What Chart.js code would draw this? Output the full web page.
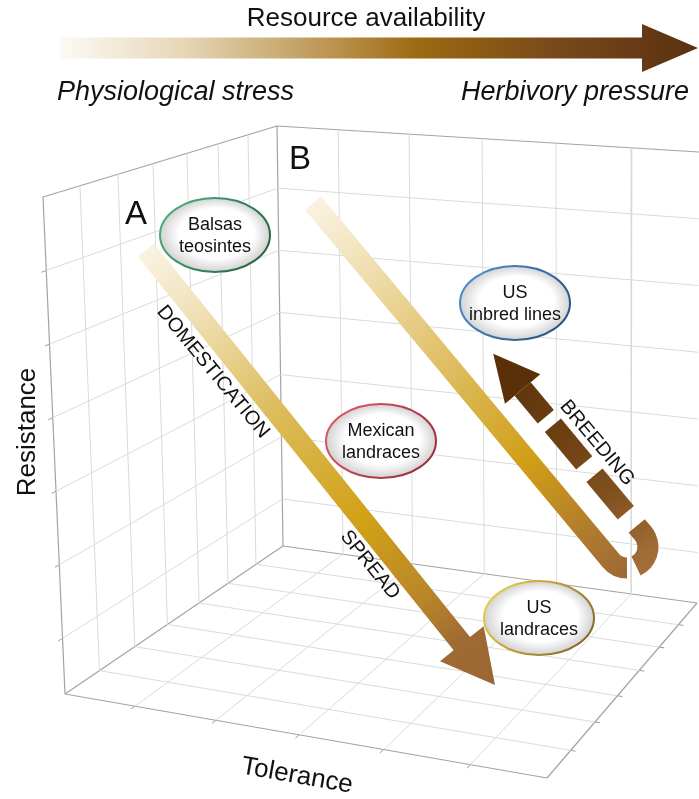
<!DOCTYPE html>
<html>
<head>
<meta charset="utf-8">
<script src="https://cdn.jsdelivr.net/npm/chart.js@4.4.1/dist/chart.umd.min.js"></script>
<style>
  html, body { margin: 0; padding: 0; background: #fff; }
  canvas { display: block; }
</style>
</head>
<body>
<canvas id="myChart" width="699" height="799"></canvas>
<script>
// value space of the chart = pixel space of the figure
const W = 699, H = 799;

// corners of the three box planes [x, y]
const leftWall = { tl: [43, 197], tr: [277, 126], bl: [65, 694], br: [283, 546] };
const backWall = { tl: [277, 126], tr: [699, 152], bl: [283, 546], br: [697, 603] };
const floorPlane = { tl: [283, 546], tr: [697, 603], bl: [65, 694], br: [547, 778] };

// grid ticks, as fractions of each edge
const resistanceTicks = [0.148, 0.296, 0.444, 0.592, 0.74, 0.888]; // from the top
const depthTicks = [0.158, 0.32, 0.47, 0.615, 0.748, 0.876]; // left wall, from the front
const toleranceTicks = [0.145, 0.313, 0.486, 0.661, 0.841]; // back wall / floor

// groups (ellipses)
const groupLabels = [['Balsas', 'teosintes'], ['US', 'inbred lines'], ['Mexican', 'landraces'], ['US', 'landraces']];
const groupX = [215, 515, 381, 539];
const groupY = [235, 303, 441, 618];
const ringLight = ['#55b585', '#4f95d2', '#e55d66', '#f3dc4a'];
const ringDark = ['#1c5a38', '#1f4b78', '#8e2a36', '#7a5a22'];

// arrows
const domesticationArrow = [[146, 250], [495, 685]]; // start, tip
const breedingStart = [313, 203];
const breedingTurn = [627, 547]; // centre of the U turn
const breedingTip = [494, 353];

// panel letters and captions
const panelLetters = ['A', 'B'];
const panelX = [136, 300];
const panelY = [215, 160];
const arrowWords = ['DOMESTICATION', 'SPREAD', 'BREEDING'];
const arrowWordX = [213, 370, 597];
const arrowWordY = [372, 565, 443];
const arrowWordAngle = [50.5, 51, 50];

const FONT = '"Liberation Sans", Arial, sans-serif';

// bilinear point on a plane
function onPlane(p, u, v) {
  const top = [p.tl[0] + (p.tr[0] - p.tl[0]) * u, p.tl[1] + (p.tr[1] - p.tl[1]) * u];
  const bot = [p.bl[0] + (p.br[0] - p.bl[0]) * u, p.bl[1] + (p.br[1] - p.bl[1]) * u];
  return [top[0] + (bot[0] - top[0]) * v, top[1] + (bot[1] - top[1]) * v];
}

const datasets = [];
function addLine(a, b, color, width) {
  datasets.push({
    data: [{ x: a[0], y: a[1] }, { x: b[0], y: b[1] }],
    showLine: true,
    borderColor: color,
    borderWidth: width,
    pointRadius: 0,
    fill: false,
  });
}
function addTick(inner, outer) {
  const dx = outer[0] - inner[0], dy = outer[1] - inner[1];
  const l = Math.hypot(dx, dy);
  addLine(outer, [outer[0] + dx / l * 5, outer[1] + dy / l * 5], '#9a9a9a', 1);
}

const GRID = '#dadada';
// left wall
depthTicks.forEach(u => addLine(onPlane(leftWall, u, 0), onPlane(leftWall, u, 1), GRID, 1));
resistanceTicks.forEach(v => addLine(onPlane(leftWall, 0, v), onPlane(leftWall, 1, v), GRID, 1));
// back wall
toleranceTicks.forEach(u => addLine(onPlane(backWall, u, 0), onPlane(backWall, u, 1), GRID, 1));
resistanceTicks.forEach(v => addLine(onPlane(backWall, 0, v), onPlane(backWall, 1, v), GRID, 1));
// floor
toleranceTicks.forEach(u => addLine(onPlane(floorPlane, u, 0), onPlane(floorPlane, u, 1), GRID, 1));
depthTicks.forEach(f => addLine(onPlane(floorPlane, 0, 1 - f), onPlane(floorPlane, 1, 1 - f), GRID, 1));

// box edges
const EDGE = '#a3a3a3';
[
  [leftWall.tl, leftWall.tr], [leftWall.tl, leftWall.bl], [leftWall.tr, leftWall.br],
  [leftWall.bl, leftWall.br], [backWall.tl, backWall.tr], [backWall.bl, backWall.br],
  [floorPlane.bl, floorPlane.br], [floorPlane.br, floorPlane.tr],
].forEach(e => addLine(e[0], e[1], EDGE, 1.2));

// small ticks
resistanceTicks.forEach(v => addTick(onPlane(leftWall, 1, v), onPlane(leftWall, 0, v)));
toleranceTicks.forEach(u => addTick(onPlane(floorPlane, u, 0), onPlane(floorPlane, u, 1)));
depthTicks.forEach(f => addTick(onPlane(floorPlane, 0, 1 - f), onPlane(floorPlane, 1, 1 - f)));

function gradientAlong(ctx, a, b, stops) {
  const g = ctx.createLinearGradient(a[0], a[1], b[0], b[1]);
  stops.forEach(s => g.addColorStop(s[0], s[1]));
  return g;
}

function straightArrow(ctx, a, b, width, headLen, headHalf, fill) {
  const dx = b[0] - a[0], dy = b[1] - a[1], len = Math.hypot(dx, dy);
  const ux = dx / len, uy = dy / len, nx = -uy, ny = ux;
  const bx = b[0] - ux * headLen, by = b[1] - uy * headLen;
  const w = width / 2;
  ctx.fillStyle = fill;
  ctx.beginPath();
  ctx.moveTo(a[0] + nx * w, a[1] + ny * w);
  ctx.lineTo(bx + nx * w, by + ny * w);
  ctx.lineTo(bx + nx * headHalf, by + ny * headHalf);
  ctx.lineTo(b[0], b[1]);
  ctx.lineTo(bx - nx * headHalf, by - ny * headHalf);
  ctx.lineTo(bx - nx * w, by - ny * w);
  ctx.lineTo(a[0] - nx * w, a[1] - ny * w);
  ctx.closePath();
  ctx.fill();
}

function text(ctx, str, x, y, size, opts) {
  const o = opts || {};
  ctx.save();
  ctx.translate(x, y);
  if (o.angle) ctx.rotate(o.angle * Math.PI / 180);
  ctx.font = (o.italic ? 'italic ' : '') + size + 'px ' + FONT;
  ctx.fillStyle = '#111';
  ctx.textAlign = o.align || 'center';
  ctx.textBaseline = o.baseline || 'middle';
  ctx.fillText(str, 0, 0);
  ctx.restore();
}

const figurePlugin = {
  id: 'figure',
  afterDatasetsDraw(chart) {
    const ctx = chart.ctx;
    const sx = chart.scales.x, sy = chart.scales.y;
    const P = p => [sx.getPixelForValue(p[0]), sy.getPixelForValue(p[1])];

    // resource availability arrow
    const ra = P([60, 48]), rb = P([698, 48]);
    straightArrow(ctx, ra, rb, 21, 56, 24, gradientAlong(ctx, ra, rb, [
      [0, '#fcfaf5'], [0.2, '#e6d5b4'], [0.45, '#b68d45'], [0.56, '#9c6a12'], [0.8, '#74461a'], [1, '#5a3110'],
    ]));
    text(ctx, 'Resource availability', 366, 19, 26);
    text(ctx, 'Physiological stress', 57, 92, 27, { italic: true, align: 'left' });
    text(ctx, 'Herbivory pressure', 689, 92, 27, { italic: true, align: 'right' });

    // axis titles
    text(ctx, 'Resistance', 28, 432, 26, { angle: -90 });
    text(ctx, 'Tolerance', 297, 776, 26, { angle: 10 });

    // A: domestication / spread
    const da = P(domesticationArrow[0]), db = P(domesticationArrow[1]);
    straightArrow(ctx, da, db, 21, 53, 28, gradientAlong(ctx, da, db, [
      [0, '#faf3e2'], [0.12, '#f2e4bf'], [0.37, '#dcbc5c'], [0.62, '#d1a116'], [0.8, '#b8862a'], [0.9, '#9f6a33'], [1, '#9a6633'],
    ]));

    // B: breeding U turn
    const S = P(breedingStart), C = P(breedingTurn), T = P(breedingTip);
    const r = 21;
    const D = Math.hypot(C[0] - S[0], C[1] - S[1]);
    const ang = Math.atan2(C[1] - S[1], C[0] - S[0]) + Math.asin(r / D);
    const ux = Math.cos(ang), uy = Math.sin(ang);
    const nx = uy, ny = -ux;
    const P1 = [C[0] - r * nx, C[1] - r * ny];
    const P2 = [C[0] + r * nx, C[1] + r * ny];
    const a1 = Math.atan2(-ny, -nx), a2 = Math.atan2(ny, nx);
    const back = (P2[0] - T[0]) * ux + (P2[1] - T[1]) * uy;
    const tip = [P2[0] - ux * back, P2[1] - uy * back];
    const headLen = 46, headHalf = 23;
    const base = [tip[0] + ux * headLen, tip[1] + uy * headLen];

    ctx.save();
    ctx.lineWidth = 21;
    ctx.lineCap = 'butt';
    ctx.strokeStyle = gradientAlong(ctx, S, [C[0], C[1] + r], [
      [0, '#faf3e2'], [0.15, '#f1e2b8'], [0.5, '#dbb650'], [0.7, '#d09e16'], [0.88, '#b27d2b'], [1, '#9e6a36'],
    ]);
    ctx.beginPath();
    ctx.moveTo(S[0], S[1]);
    ctx.lineTo(P1[0], P1[1]);
    ctx.arc(C[0], C[1], r, a1, Math.PI / 2, true);
    ctx.stroke();

    const dashGrad = gradientAlong(ctx, [C[0] + ux * r, C[1] + uy * r], tip, [
      [0, '#a26d38'], [0.3, '#7f4f1f'], [0.6, '#6c3f12'], [1, '#5a3009'],
    ]);
    ctx.strokeStyle = dashGrad;
    ctx.setLineDash([48, 17, 49, 16, 49, 11, 400]);
    ctx.beginPath();
    ctx.arc(C[0], C[1], r, 64.5 * Math.PI / 180, a2, true);
    ctx.lineTo(base[0], base[1]);
    ctx.stroke();
    ctx.setLineDash([]);
    ctx.fillStyle = '#5a3009';
    ctx.beginPath();
    ctx.moveTo(base[0] + nx * headHalf, base[1] + ny * headHalf);
    ctx.lineTo(tip[0], tip[1]);
    ctx.lineTo(base[0] - nx * headHalf, base[1] - ny * headHalf);
    ctx.closePath();
    ctx.fill();
    ctx.restore();

    // arrow captions
    arrowWords.forEach((w, i) => {
      const p = P([arrowWordX[i], arrowWordY[i]]);
      text(ctx, w, p[0], p[1], 20, { angle: arrowWordAngle[i] });
    });

    // panel letters
    panelLetters.forEach((l, i) => {
      const p = P([panelX[i], panelY[i]]);
      text(ctx, l, p[0], p[1], 33);
    });

    // group ellipses
    const rx = 55, ry = 37;
    groupLabels.forEach((lines, i) => {
      const c = P([groupX[i], groupY[i]]);
      ctx.save();
      ctx.translate(c[0], c[1]);
      ctx.scale(1, ry / rx);
      const g = ctx.createRadialGradient(5, -8, 0, 0, 0, rx);
      g.addColorStop(0, '#ffffff');
      g.addColorStop(0.68, '#ffffff');
      g.addColorStop(1, '#d2d2d2');
      ctx.fillStyle = g;
      ctx.beginPath();
      ctx.arc(0, 0, rx, 0, Math.PI * 2);
      ctx.fill();
      ctx.restore();
      ctx.save();
      ctx.lineWidth = 2;
      ctx.strokeStyle = gradientAlong(ctx, [c[0] - rx, c[1] - ry], [c[0] + rx, c[1] + ry], [
        [0, ringLight[i]], [1, ringDark[i]],
      ]);
      ctx.beginPath();
      ctx.ellipse(c[0], c[1], rx, ry, 0, 0, Math.PI * 2);
      ctx.stroke();
      ctx.restore();
      text(ctx, lines[0], c[0], c[1] - 10, 18);
      text(ctx, lines[1], c[0], c[1] + 12, 18);
    });
  },
};

const config = {
  type: 'scatter',
  data: { datasets },
  options: {
    responsive: false,
    animation: false,
    devicePixelRatio: 1,
    events: [],
    layout: { padding: 0 },
    scales: {
      x: { type: 'linear', min: 0, max: W, display: false },
      y: { type: 'linear', min: 0, max: H, reverse: true, display: false },
    },
    plugins: {
      legend: { display: false },
      tooltip: { enabled: false },
    },
  },
  plugins: [figurePlugin],
};

const myChart = new Chart(document.getElementById('myChart'), config);
</script>
</body>
</html>
